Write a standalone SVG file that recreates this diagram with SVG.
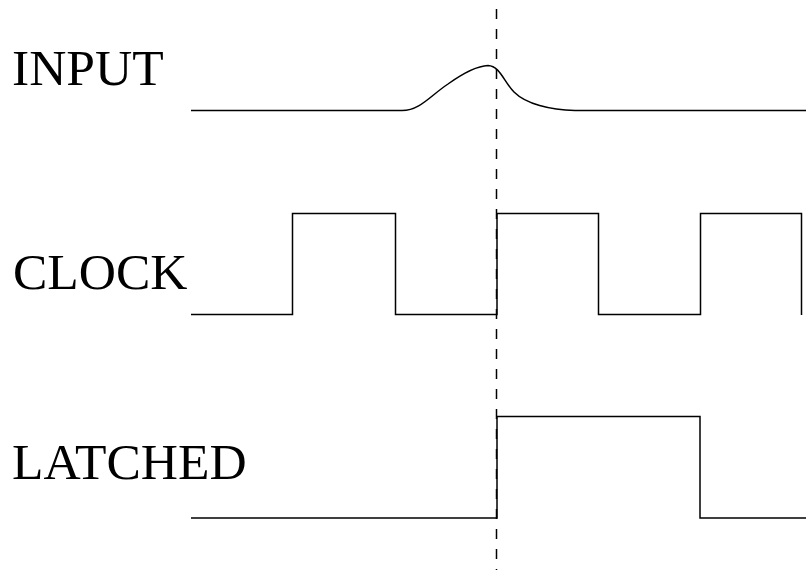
<svg xmlns="http://www.w3.org/2000/svg" width="806" height="570" viewBox="0 0 806 570">
<style>
.lbl{font-family:"Liberation Serif","Times New Roman",serif;font-size:51.5px;fill:#000}
.sig{fill:none;stroke:#000;stroke-width:1.5;stroke-linejoin:miter}
.dash{fill:none;stroke:#000;stroke-width:1.5;stroke-dasharray:10 10}
</style>
<rect width="806" height="570" fill="#fff"/>
<g id="input">
<text class="lbl" x="12" y="85">INPUT</text>
<path class="sig" d="M191,110.5 L402,110.5 C420,110.5 430,96 448,84 C462,74 476,66 488,65.5 C500,66 504,82 514,92 C526,104 550,110 575,110.5 L806,110.5"/>
</g>
<g id="clock">
<text class="lbl" x="13" y="289">CLOCK</text>
<path class="sig" d="M191,314.5 L292.5,314.5 L292.5,213.5 L395.5,213.5 L395.5,314.5 L497,314.5 L497,213.5 L598.5,213.5 L598.5,314.5 L700.5,314.5 L700.5,213.5 L801.5,213.5 L801.5,315"/>
</g>
<g id="latched">
<text class="lbl" x="12" y="479">LATCHED</text>
<path class="sig" d="M191,518 L497,518 L497,416.5 L700,416.5 L700,518 L806,518"/>
</g>
<g id="connectors">
<line class="dash" x1="496.5" y1="9" x2="496.5" y2="570"/>
</g>
</svg>
